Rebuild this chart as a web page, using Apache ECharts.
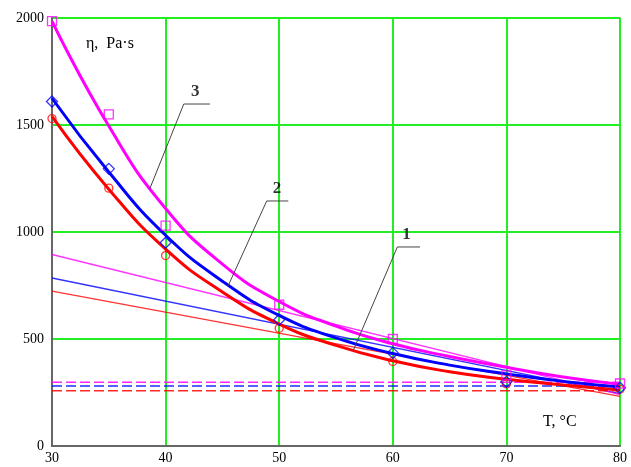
<!DOCTYPE html>
<html>
<head>
<meta charset="utf-8">
<script src="https://cdn.jsdelivr.net/npm/echarts@6/dist/echarts.min.js"></script>
<style>
  html, body { margin: 0; padding: 0; background: #fff; }
  #main { width: 631px; height: 467px; }
</style>
</head>
<body>
<div id="main"></div>
<script>
// temperature, degC
const temps = [30, 35, 40, 45, 50, 55, 60, 65, 70, 75, 80];
const expTemps = [30, 35, 40, 50, 60, 70, 80];
const lineTemps = [30, 80];

// fitted curves (thick)
const fit1 = [1540, 1200, 920, 720, 570, 470, 398, 347, 312, 285, 262];
const fit2 = [1625, 1280, 985, 770, 610, 505, 432, 378, 337, 302, 276];
const fit3 = [1985, 1495, 1110, 850, 675, 560, 478, 418, 368, 322, 288];

// measured points
const meas1 = [1530, 1205, 890, 550, 395, 290, 265];
const meas2 = [1610, 1295, 950, 590, 435, 300, 272];
const meas3 = [1985, 1550, 1030, 660, 500, 330, 292];

// straight (thin) lines
const lin1 = [724, 232];
const lin2 = [785, 245];
const lin3 = [895, 240];

// horizontal asymptotes (dashed)
const asym1 = 258;
const asym2 = 280;
const asym3 = 298;

const xTicks = [30, 40, 50, 60, 70, 80];
const yTicks = [0, 500, 1000, 1500, 2000];

// curve number callouts: [tip, corner, end], label position
const callouts = [
    {name: '1', pts: [[56.5, 444], [60.4, 930], [62.4, 930]], at: [61.2, 990]},
    {name: '2', pts: [[45.5, 748], [48.9, 1145], [50.8, 1145]], at: [49.8, 1205]},
    {name: '3', pts: [[38.6, 1201], [41.6, 1598], [43.9, 1598]], at: [42.6, 1658]},
];

const RED = '#ff0000';
const BLUE = '#0000ff';
const MAGENTA = '#ff00ff';
const FONT = '"Liberation Serif", "DejaVu Serif", serif';

const zip = (xs, ys) => xs.map((x, i) => [x, ys[i]]);

function fitSeries(data, color) {
    return {
        type: 'line', data: zip(temps, data), smooth: 0.5, symbol: 'none',
        lineStyle: {color: color, width: 3}, z: 4,
    };
}
function measSeries(data, color, symbol, size) {
    return {
        type: 'scatter', data: zip(expTemps, data), symbol: symbol, symbolSize: size,
        itemStyle: {color: 'transparent', borderColor: color, borderWidth: 1.3}, z: 6,
    };
}
function linSeries(data, color) {
    return {
        type: 'line', data: zip(lineTemps, data), symbol: 'none',
        lineStyle: {color: color, width: 1.4, opacity: 0.8}, z: 3,
    };
}
function asymSeries(value, color) {
    return {
        type: 'line', data: zip(lineTemps, [value, value]), symbol: 'none',
        lineStyle: {color: color, width: 1.5, type: [10, 4], opacity: 0.85}, z: 3,
    };
}

const series = [
    linSeries(lin1, RED), linSeries(lin2, BLUE), linSeries(lin3, MAGENTA),
    asymSeries(asym1, RED), asymSeries(asym2, BLUE), asymSeries(asym3, MAGENTA),
    fitSeries(fit1, RED), fitSeries(fit2, BLUE), fitSeries(fit3, MAGENTA),
    measSeries(meas1, RED, 'circle', 8),
    measSeries(meas2, BLUE, 'diamond', 11),
    measSeries(meas3, MAGENTA, 'rect', 9),
];
callouts.forEach((c) => {
    series.push({
        type: 'line', data: c.pts, symbol: 'none', silent: true,
        lineStyle: {color: '#444', width: 1}, z: 7,
    });
    series.push({
        type: 'scatter', data: [{name: c.name, value: c.at}], symbolSize: 0, silent: true,
        label: {show: true, position: 'inside', formatter: '{b}', color: '#000',
            fontFamily: FONT, fontSize: 17, fontWeight: 'bold'},
        z: 7,
    });
});

const chart = echarts.init(document.getElementById('main'));
chart.setOption({
    animation: false,
    grid: {left: 52, right: 11, top: 18, bottom: 21, show: true,
        borderColor: '#777', borderWidth: 1.5, backgroundColor: '#fff'},
    xAxis: {
        type: 'value', min: xTicks[0], max: xTicks[xTicks.length - 1], interval: 10,
        axisLine: {lineStyle: {color: '#666', width: 2}},
        axisTick: {show: false},
        axisLabel: {color: '#000', fontFamily: FONT, fontSize: 14, margin: 5},
        splitLine: {lineStyle: {color: '#22ee22', width: 2}},
    },
    yAxis: {
        type: 'value', min: yTicks[0], max: yTicks[yTicks.length - 1], interval: 500,
        axisLine: {lineStyle: {color: '#666', width: 2}},
        axisTick: {show: false},
        axisLabel: {color: '#000', fontFamily: FONT, fontSize: 14, margin: 8,
            formatter: (v) => String(v)},
        splitLine: {lineStyle: {color: '#22ee22', width: 2}},
    },
    graphic: [
        {type: 'text', left: 86, top: 36, style: {text: 'η,  Pa·s', fill: '#000', font: '16px ' + FONT}},
        {type: 'text', left: 543, top: 414, style: {text: 'T, °C', fill: '#000', font: '16px ' + FONT}},
    ],
    series: series,
});
</script>
</body>
</html>
